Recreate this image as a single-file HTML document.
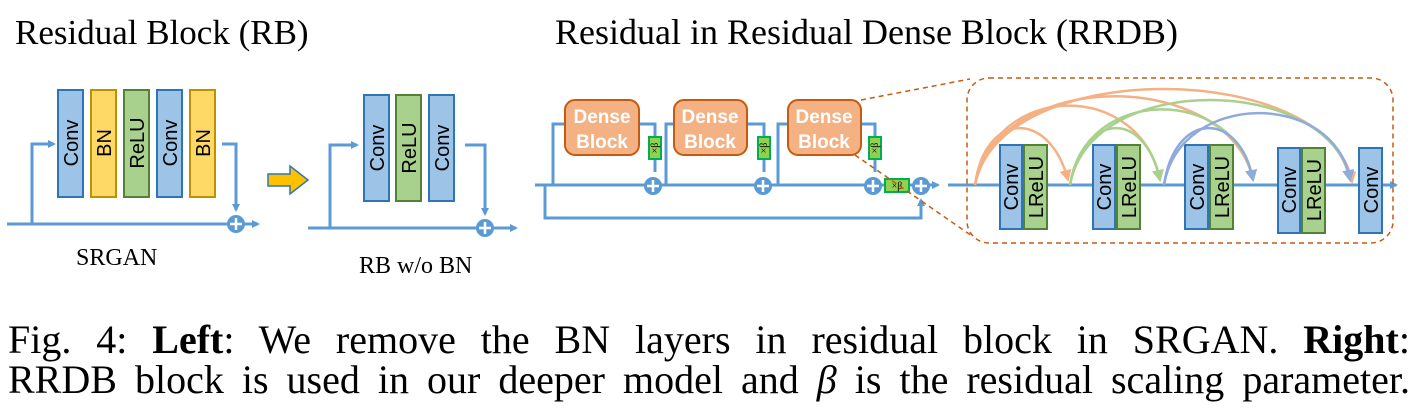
<!DOCTYPE html>
<html><head><meta charset="utf-8"><style>
body{margin:0;width:1420px;height:413px;background:#fff;overflow:hidden;position:relative}
.cap{position:absolute;left:8px;width:1402px;font-family:"Liberation Serif",serif;font-size:40px;color:#000;text-align:justify;text-align-last:justify;white-space:nowrap;line-height:40px}
</style></head><body>
<svg width="1420" height="300" style="position:absolute;left:0;top:0" xmlns="http://www.w3.org/2000/svg">
<defs>
<marker id="ab" markerWidth="8" markerHeight="8" refX="6" refY="4" orient="auto" markerUnits="userSpaceOnUse"><path d="M0,0 L8,4 L0,8 z" fill="#5b9bd5"/></marker>
<marker id="ao" markerWidth="12" markerHeight="12" refX="10" refY="6" orient="auto" markerUnits="userSpaceOnUse"><path d="M0,0 L12,6 L0,12 z" fill="#f4b183"/></marker>
<marker id="ag" markerWidth="12" markerHeight="12" refX="10" refY="6" orient="auto" markerUnits="userSpaceOnUse"><path d="M0,0 L12,6 L0,12 z" fill="#a9d18e"/></marker>
<marker id="abl" markerWidth="12" markerHeight="12" refX="10" refY="6" orient="auto" markerUnits="userSpaceOnUse"><path d="M0,0 L12,6 L0,12 z" fill="#8faadc"/></marker>
</defs>
<g font-family="Liberation Serif,serif" font-size="35" fill="#000">
<text x="15" y="44">Residual Block (RB)</text>
<text x="555" y="44" font-size="36">Residual in Residual Dense Block (RRDB)</text>
<text x="76" y="265" font-size="24">SRGAN</text>
<text x="359" y="273" font-size="24">RB w/o BN</text>
</g>
<g stroke="#5b9bd5" stroke-width="3" fill="none">
<path d="M7,224 H258" marker-end="url(#ab)"/>
<path d="M32,224 V144 H54" marker-end="url(#ab)"/>
<path d="M222,144 H236 V210" marker-end="url(#ab)"/>
<path d="M308,228 H516" marker-end="url(#ab)"/>
<path d="M330,228 V145 H357" marker-end="url(#ab)"/>
<path d="M465,145 H485 V214" marker-end="url(#ab)"/>
<path d="M535,185 H938" marker-end="url(#ab)"/>
<path d="M545,185 V218 H921 V200" marker-end="url(#ab)"/>
<path d="M553,185 V124 H565 M639,124 H655 V172"/>
<path d="M666,185 V124 H674 M747,124 H764 V172"/>
<path d="M778,185 V124 H788 M861,124 H875 V172"/>
<path d="M948,185 H1396" marker-end="url(#ab)"/>
</g>
<g fill="#5b9bd5">
<circle cx="236" cy="224" r="9"/><circle cx="485" cy="228" r="9"/>
<circle cx="653" cy="186" r="9"/><circle cx="763" cy="186" r="9"/><circle cx="873" cy="186" r="9"/><circle cx="921" cy="186" r="9"/>
</g>
<g stroke="#fff" stroke-width="2.5">
<path d="M230,224 h12 M236,218 v12"/><path d="M479,228 h12 M485,222 v12"/>
<path d="M647,186 h12 M653,180 v12"/><path d="M757,186 h12 M763,180 v12"/><path d="M867,186 h12 M873,180 v12"/><path d="M915,186 h12 M921,180 v12"/>
</g>
<g stroke-width="2">
<rect x="58" y="90" width="25" height="107" fill="#9dc3e6" stroke="#2e75b6"/>
<rect x="91" y="90" width="25" height="107" fill="#ffd966" stroke="#bf9000"/>
<rect x="124" y="90" width="25" height="107" fill="#a9d18e" stroke="#538135"/>
<rect x="157" y="90" width="25" height="107" fill="#9dc3e6" stroke="#2e75b6"/>
<rect x="190" y="90" width="25" height="107" fill="#ffd966" stroke="#bf9000"/>
<rect x="364" y="95" width="25" height="106" fill="#9dc3e6" stroke="#2e75b6"/>
<rect x="396" y="95" width="25" height="106" fill="#a9d18e" stroke="#538135"/>
<rect x="429" y="95" width="25" height="106" fill="#9dc3e6" stroke="#2e75b6"/>
<rect x="1000" y="145" width="22" height="84" fill="#9dc3e6" stroke="#2e75b6"/>
<rect x="1024" y="145" width="23" height="84" fill="#a9d18e" stroke="#538135"/>
<rect x="1093" y="145" width="22" height="84" fill="#9dc3e6" stroke="#2e75b6"/>
<rect x="1117" y="145" width="23" height="84" fill="#a9d18e" stroke="#538135"/>
<rect x="1185" y="145" width="23" height="84" fill="#9dc3e6" stroke="#2e75b6"/>
<rect x="1210" y="145" width="23" height="84" fill="#a9d18e" stroke="#538135"/>
<rect x="1278" y="148" width="22" height="85" fill="#9dc3e6" stroke="#2e75b6"/>
<rect x="1302" y="148" width="23" height="85" fill="#a9d18e" stroke="#538135"/>
<rect x="1359" y="148" width="23" height="85" fill="#9dc3e6" stroke="#2e75b6"/>
<rect x="565" y="100" width="74" height="55" rx="10" fill="#f4b183" stroke="#c55a11"/>
<rect x="674" y="100" width="73" height="55" rx="10" fill="#f4b183" stroke="#c55a11"/>
<rect x="788" y="100" width="73" height="55" rx="10" fill="#f4b183" stroke="#c55a11"/>
<rect x="649" y="137" width="12" height="22" fill="#92d050" stroke="#00b050"/>
<rect x="758" y="137" width="12" height="22" fill="#92d050" stroke="#00b050"/>
<rect x="869" y="137" width="12" height="22" fill="#92d050" stroke="#00b050"/>
<rect x="885" y="179" width="24" height="13" fill="#92d050" stroke="#00b050"/>
</g>
<path d="M268,174 H290 V166 L308,180 L290,194 V186 H268 Z" fill="#ffc000" stroke="#2e75b6" stroke-width="1.5"/>
<g font-family="Liberation Sans,sans-serif" font-size="20" fill="#000" text-anchor="middle">
<text transform="translate(78,143) rotate(-90)">Conv</text>
<text transform="translate(111,143) rotate(-90)">BN</text>
<text transform="translate(144,143) rotate(-90)">ReLU</text>
<text transform="translate(177,143) rotate(-90)">Conv</text>
<text transform="translate(210,143) rotate(-90)">BN</text>
<text transform="translate(384,148) rotate(-90)">Conv</text>
<text transform="translate(416,148) rotate(-90)">ReLU</text>
<text transform="translate(449,148) rotate(-90)">Conv</text>
<text transform="translate(1018,187) rotate(-90)">Conv</text>
<text transform="translate(1043,187) rotate(-90)">LReLU</text>
<text transform="translate(1111,187) rotate(-90)">Conv</text>
<text transform="translate(1136,187) rotate(-90)">LReLU</text>
<text transform="translate(1204,187) rotate(-90)">Conv</text>
<text transform="translate(1229,187) rotate(-90)">LReLU</text>
<text transform="translate(1296,190) rotate(-90)">Conv</text>
<text transform="translate(1321,190) rotate(-90)">LReLU</text>
<text transform="translate(1378,190) rotate(-90)">Conv</text>
</g>
<g font-family="Liberation Sans,sans-serif" font-size="19" font-weight="bold" fill="#fff" text-anchor="middle">
<text x="602" y="123">Dense</text><text x="602" y="148">Block</text>
<text x="710" y="123">Dense</text><text x="710" y="148">Block</text>
<text x="824" y="123">Dense</text><text x="824" y="148">Block</text>
</g>
<g font-family="Liberation Serif,serif" font-size="10" fill="#000" text-anchor="middle">
<text transform="translate(658,148) rotate(-90)">×β</text>
<text transform="translate(767,148) rotate(-90)">×β</text>
<text transform="translate(878,148) rotate(-90)">×β</text>
<text x="897" y="189">×β</text>
</g>
<g stroke="#c55a11" stroke-width="1.5" stroke-dasharray="5,4" fill="none">
<rect x="967" y="78" width="426" height="165" rx="22"/>
<path d="M861,100 L970,79 M855,155 L972,236"/>
</g>
<g fill="none" stroke-width="2.5">
<path d="M975,185 C985,110 1050,110 1068,180" stroke="#f4b183" marker-end="url(#ao)"/>
<path d="M975,185 C995,80 1140,80 1160,180" stroke="#f4b183" marker-end="url(#ao)"/>
<path d="M975,185 C1000,65 1230,70 1253,180" stroke="#f4b183" marker-end="url(#ao)"/>
<path d="M975,185 C1000,55 1330,60 1352,182" stroke="#f4b183" marker-end="url(#ao)"/>
<path d="M1070,185 C1085,110 1145,110 1160,180" stroke="#a9d18e" marker-end="url(#ag)"/>
<path d="M1070,185 C1085,85 1235,85 1253,180" stroke="#a9d18e" marker-end="url(#ag)"/>
<path d="M1070,185 C1090,70 1330,75 1350,180" stroke="#a9d18e" marker-end="url(#ag)"/>
<path d="M1164,185 C1175,110 1240,110 1253,180" stroke="#8faadc" marker-end="url(#abl)"/>
<path d="M1164,185 C1180,90 1335,90 1350,180" stroke="#8faadc" marker-end="url(#abl)"/>
</g>
</svg>
<div class="cap" style="top:320px">Fig. 4: <b>Left</b>: We remove the BN layers in residual block in SRGAN. <b>Right</b>:</div>
<div class="cap" style="top:360px">RRDB block is used in our deeper model and <i>β</i> is the residual scaling parameter.</div>
</body></html>
